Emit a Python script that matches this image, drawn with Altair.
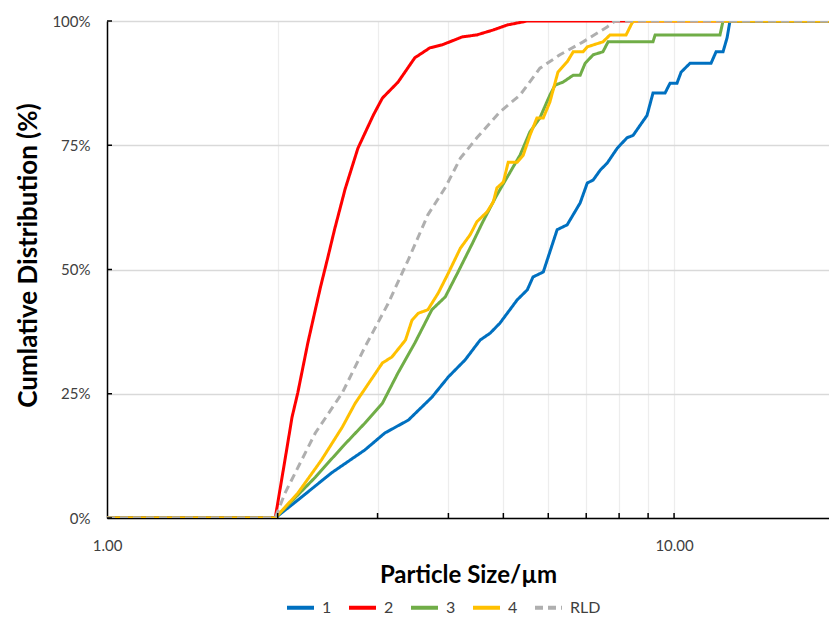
import altair as alt
import pandas as pd

# ---- data (particle size in µm, cumulative %) ----
names = ["1", "2", "3", "4", "RLD"]
colors = ["#0070C0", "#FF0000", "#70AD47", "#FFC000", "#AFAFAF"]
dashes = [[1, 0], [1, 0], [1, 0], [1, 0], [8, 5]]

x1 = [1.00, 1.98, 2.17, 2.49, 2.85, 3.09, 3.40, 3.74, 4.00, 4.28, 4.55, 4.74, 4.93, 5.29, 5.51, 5.64,
      5.88, 6.22, 6.48, 6.83, 7.03, 7.20, 7.41, 7.62, 7.94, 8.26, 8.47, 8.71, 8.96, 9.18, 9.64, 9.84,
      10.12, 10.29, 10.67, 11.62, 11.86, 12.20, 12.40, 12.55, 18.76]
y1 = [0, 0, 3.6, 9.1, 13.7, 17.1, 19.7, 24.3, 28.4, 31.8, 35.8, 37.2, 39.2, 43.9, 45.9, 48.5,
      49.5, 58.0, 59.0, 63.4, 67.4, 68.0, 70.0, 71.4, 74.4, 76.5, 77.0, 79.0, 81.0, 85.5, 85.5, 87.5,
      87.5, 89.7, 91.5, 91.5, 93.8, 93.8, 96.6, 100, 100]

x2 = [1.00, 1.98, 2.06, 2.12, 2.17, 2.26, 2.33, 2.38, 2.45, 2.52, 2.63, 2.77, 2.95, 3.06, 3.26, 3.49,
      3.71, 3.90, 4.23, 4.49, 4.80, 5.08, 5.51, 18.76]
y2 = [0, 0, 11.7, 20.3, 25.2, 35.2, 41.9, 46.5, 52.3, 58.1, 66.2, 74.4, 81.1, 84.5, 87.7, 92.6,
      94.6, 95.2, 96.8, 97.2, 98.2, 99.2, 100, 100]

x3 = [1.00, 1.98, 2.33, 2.60, 2.85, 3.06, 3.26, 3.49, 3.74, 3.95, 4.16, 4.42, 4.60, 4.87, 5.14, 5.35,
      5.57, 5.80, 6.04, 6.17, 6.37, 6.64, 6.83, 6.97, 7.20, 7.49, 7.65, 9.18, 9.26, 12.05, 12.20, 18.76]
y3 = [0, 0, 8.2, 14.3, 19.1, 23.1, 29.2, 35.2, 41.9, 44.5, 49.5, 55.5, 59.6, 65.0, 69.6, 73.0,
      77.7, 80.5, 85.1, 87.1, 87.7, 89.1, 89.1, 91.5, 93.2, 93.8, 95.8, 95.8, 97.2, 97.2, 100, 100]

x4 = [1.00, 1.98, 2.17, 2.39, 2.60, 2.74, 3.06, 3.18, 3.36, 3.45, 3.54, 3.68, 3.84, 4.00, 4.20, 4.37,
      4.49, 4.68, 4.80, 4.87, 5.00, 5.10, 5.29, 5.42, 5.57, 5.73, 5.88, 6.04, 6.24, 6.48, 6.64, 6.91,
      7.03, 7.49, 7.71, 8.23, 8.43, 8.50, 18.76]
y4 = [0, 0, 5.0, 11.7, 18.3, 23.1, 31.2, 32.4, 35.8, 39.8, 41.2, 41.9, 45.3, 49.3, 54.3, 57.0,
      59.6, 61.6, 63.6, 66.4, 67.6, 71.6, 71.6, 73.0, 77.0, 80.5, 80.5, 83.7, 89.7, 91.8, 93.8, 93.8,
      94.8, 95.8, 97.2, 97.2, 99.6, 100, 100]

x5 = [1.00, 1.98, 2.06, 2.33, 2.60, 2.85, 3.13, 3.40, 3.68, 3.95, 4.20, 4.49, 4.93, 5.35, 5.80, 6.29,
      6.91, 7.62, 7.87, 18.76]
y5 = [0, 0, 5.0, 17.1, 25.2, 34.4, 43.1, 52.0, 61.0, 66.5, 72.4, 76.5, 81.7, 85.1, 90.5, 93.2,
      95.8, 98.8, 100, 100]

x_grid = [1, 2, 3, 4, 5, 6, 7, 8, 9, 10]
x_minor_ticks = [2, 3, 4, 5, 6, 7, 8, 9, 10]
y_ticks = [0, 25, 50, 75, 100]

W, H = 722, 497
FONT = "Lato"

xscale = alt.Scale(type="log", domain=[1, 18.76], nice=False)
yscale = alt.Scale(domain=[0, 100], nice=False)

xaxis = alt.Axis(
    values=x_grid,
    labelExpr="datum.value == 1 || datum.value == 10 ? format(datum.value, '.2f') : ''",
    title="Particle Size/µm", grid=True, gridColor="#EDEDED", gridWidth=1.3,
    ticks=False, tickSize=0, domainColor="#000000", domainWidth=1.5,
    labelPadding=20, titleBaseline="middle", titleY=57, labelOverlap=False, labelFlush=False,
    labelFont=FONT, labelFontSize=15, labelColor="#404040",
    titleFont=FONT, titleFontSize=24, titleFontWeight="bold", titleColor="#000000",
)
yaxis = alt.Axis(
    values=y_ticks, labelExpr="datum.value + '%'",
    title="Cumlative Distribution (%)", grid=True, gridColor="#D9D9D9", gridWidth=1.3,
    ticks=False, tickSize=0, domainColor="#000000", domainWidth=1.5,
    labelPadding=17, titleBaseline="middle", titleX=-79, titleY=234, titleAngle=-90,
    labelFlush=False,
    labelFont=FONT, labelFontSize=15, labelColor="#404040",
    titleFont=FONT, titleFontSize=26, titleFontWeight="bold", titleColor="#000000",
)

leg = alt.Legend(
    orient="none", direction="horizontal", legendX=178, legendY=571,
    symbolType="stroke", symbolSize=729, symbolStrokeWidth=4,
    labelFont=FONT, labelFontSize=16, labelColor="#404040",
    columnPadding=9, labelOffset=6, title=None,
)

layers = []
for name, xs, ys in zip(names, [x1, x2, x3, x4, x5], [y1, y2, y3, y4, y5]):
    d = pd.DataFrame({"series": name, "size": xs, "cum": ys, "i": list(range(len(xs)))})
    layers.append(
        alt.Chart(d).mark_line(strokeWidth=3, clip=True).encode(
            x=alt.X("size:Q", scale=xscale, axis=xaxis),
            y=alt.Y("cum:Q", scale=yscale, axis=yaxis),
            color=alt.Color("series:N", scale=alt.Scale(domain=names, range=colors), legend=leg, title=None),
            strokeDash=alt.StrokeDash("series:N", scale=alt.Scale(domain=names, range=dashes), legend=leg, title=None),
            order="i:Q",
        )
    )

xt = alt.Chart(pd.DataFrame({"size": x_minor_ticks})).mark_rule(color="#000000", strokeWidth=1.5).encode(
    x=alt.X("size:Q", scale=xscale, axis=xaxis),
    y=alt.value(H - 5), y2=alt.value(H),
)
yt = alt.Chart(pd.DataFrame({"cum": y_ticks})).mark_rule(color="#000000", strokeWidth=1.5).encode(
    y=alt.Y("cum:Q", scale=yscale, axis=yaxis),
    x=alt.value(0), x2=alt.value(5),
)

chart = alt.layer(*layers, xt, yt).properties(
    width=W, height=H,
    autosize=alt.AutoSizeParams(type="none"),
    padding={"left": 99, "top": 13, "right": 0, "bottom": 102},
).configure_view(stroke=None)

chart.save("out.html", embed_options={"renderer": "svg", "actions": False})
